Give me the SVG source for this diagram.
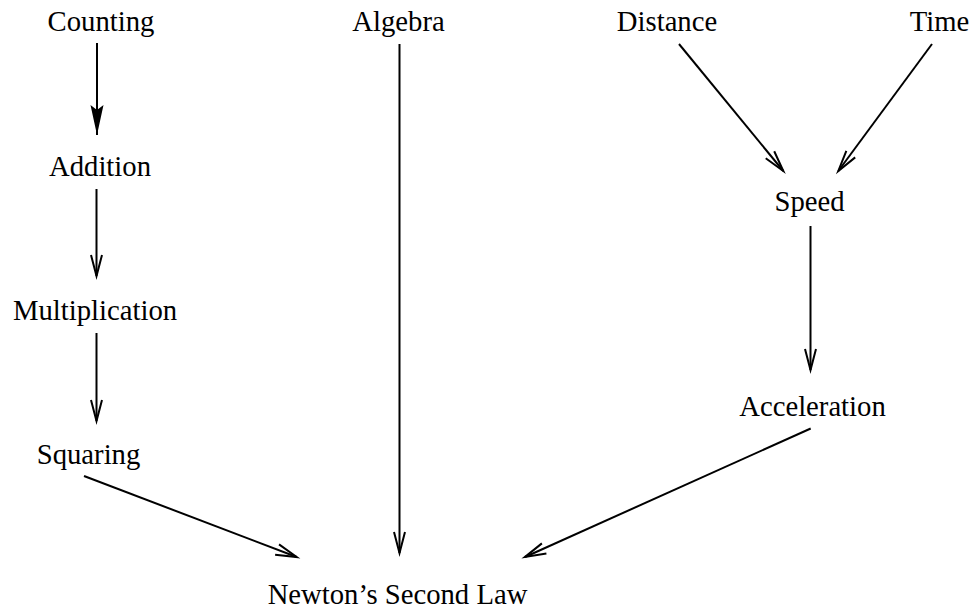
<svg xmlns="http://www.w3.org/2000/svg" width="970" height="612" viewBox="0 0 970 612">
<defs>
<style>
text{font-family:"Liberation Serif","Times New Roman",serif;font-size:28.7px;fill:#000;text-anchor:middle}
.e{stroke:#000;stroke-width:2;fill:none}
</style>
<marker id="open" markerUnits="userSpaceOnUse" orient="auto" markerWidth="30" markerHeight="16" viewBox="-24 -8 30 16" refX="0" refY="0" overflow="visible">
<path d="M-21,-5.5 L0,0 L-21,5.5" fill="none" stroke="#000" stroke-width="2"/>
</marker>
<marker id="filled" markerUnits="userSpaceOnUse" orient="auto" markerWidth="34" markerHeight="16" viewBox="-32 -8 34 16" refX="0" refY="0" overflow="visible">
<path d="M0,0 L-30,-6.5 L-25,0 L-30,6.5 Z" fill="#000"/>
</marker>
</defs>
<rect width="970" height="612" fill="#fff"/>
<g id="connectors">
<line class="e" x1="97" y1="43" x2="97" y2="135" marker-end="url(#filled)"/>
<line class="e" x1="96.5" y1="189" x2="96.5" y2="276" marker-end="url(#open)"/>
<line class="e" x1="96.5" y1="333" x2="96.5" y2="421" marker-end="url(#open)"/>
<line class="e" x1="84" y1="476" x2="296.7" y2="557" marker-end="url(#open)"/>
<line class="e" x1="399.5" y1="44" x2="399.5" y2="553" marker-end="url(#open)"/>
<line class="e" x1="679" y1="44" x2="783.3" y2="171" marker-end="url(#open)"/>
<line class="e" x1="932" y1="44" x2="838.3" y2="171" marker-end="url(#open)"/>
<line class="e" x1="810.5" y1="226" x2="810.5" y2="370" marker-end="url(#open)"/>
<line class="e" x1="810.7" y1="428.5" x2="525" y2="557" marker-end="url(#open)"/>
</g>
<g id="counting"><text x="101" y="31">Counting</text></g>
<g id="addition"><text x="100" y="176">Addition</text></g>
<g id="multiplication"><text x="95" y="320">Multiplication</text></g>
<g id="squaring"><text x="88.5" y="464">Squaring</text></g>
<g id="algebra"><text x="398.5" y="31">Algebra</text></g>
<g id="distance"><text x="667" y="31">Distance</text></g>
<g id="time"><text x="939.5" y="31">Time</text></g>
<g id="speed"><text x="809.5" y="211">Speed</text></g>
<g id="acceleration"><text x="812.5" y="416">Acceleration</text></g>
<g id="newton"><text x="397.5" y="604">Newton’s Second Law</text></g>
</svg>
